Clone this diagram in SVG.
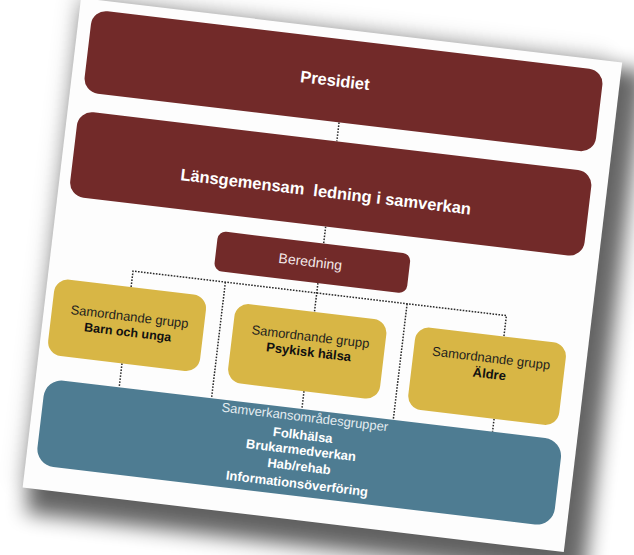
<svg xmlns="http://www.w3.org/2000/svg" width="634" height="555" viewBox="0 0 634 555">
<style>
text{font-family:"Liberation Sans",Arial,sans-serif;text-anchor:middle}
.mr{fill:#722a29}
.yl{fill:#d8b645}
.bl{fill:#4e7c92}
.hd{font-size:16.5px;font-weight:bold;fill:#ffffff}
.sg{font-size:13px;fill:#1e1e1e}
.sb{font-size:13px;font-weight:bold;fill:#111111}
.wb{font-size:13px;font-weight:bold;fill:#ffffff}
.cn{fill:none;stroke:#2a2a2a;stroke-width:1.5;stroke-dasharray:1.6 1.4}
</style>
<defs>
<filter id="sh" x="-20%" y="-20%" width="140%" height="140%"><feGaussianBlur stdDeviation="10"/></filter>
</defs>
<rect width="634" height="555" fill="#ffffff"/>
<g transform="translate(81,-2) rotate(6.8)">
<rect x="6" y="6" width="562" height="512" fill="#000" opacity="0.6" filter="url(#sh)"/>
<rect x="-8" y="-8" width="540" height="500" fill="#000" opacity="0.1" filter="url(#sh)"/>
<rect x="0" y="0" width="545" height="493" fill="#fdfdfd"/>

<g id="connectors">
<path class="cn" d="M271,93V112"/>
<path class="cn" d="M270,198V215"/>
<path class="cn" d="M269,255V284"/>
<path class="cn" d="M84,281V265H460V286"/>
<path class="cn" d="M177,265V382"/>
<path class="cn" d="M360,265V382"/>
<path class="cn" d="M84,358V382"/>
<path class="cn" d="M268,364V382"/>
<path class="cn" d="M460,369V382"/>
</g>

<g id="presidiet">
<rect class="mr" x="13" y="10" width="515" height="83" rx="15"/>
<text class="hd" x="262" y="57.5">Presidiet</text>
</g>
<g id="lansgemensam">
<rect class="mr" x="11" y="112" width="518" height="86" rx="15"/>
<text class="hd" x="266" y="169" xml:space="preserve">Länsgemensam  ledning i samverkan</text>
</g>
<g id="beredning">
<rect class="mr" x="164" y="215" width="194" height="40" rx="8"/>
<text x="259" y="239.5" style="font-size:14px;fill:#f3e8e8">Beredning</text>
</g>
<g id="barn">
<rect class="yl" x="8" y="281" width="153" height="77" rx="14"/>
<text class="sg" x="86" y="315">Samordnande grupp</text>
<text class="sb" x="86" y="330.5" style="font-size:12.5px">Barn och unga</text>
</g>
<g id="psykisk">
<rect class="yl" x="190" y="284" width="153" height="80" rx="14"/>
<text class="sg" x="268" y="313.5">Samordnande grupp</text>
<text class="sb" x="268" y="329">Psykisk hälsa</text>
</g>
<g id="aldre">
<rect class="yl" x="372" y="286" width="152" height="83" rx="14"/>
<text class="sg" x="450" y="313.5">Samordnande grupp</text>
<text class="sb" x="450" y="329.5">Äldre</text>
</g>
<g id="samverkan">
<rect class="bl" x="10" y="382" width="521" height="87" rx="18"/>
<text x="272" y="394" style="font-size:13px;fill:#e4ecf0">Samverkansområdesgrupper</text>
<text class="wb" x="272" y="412.3">Folkhälsa</text>
<text class="wb" x="272" y="427.4">Brukarmedverkan</text>
<text class="wb" x="272" y="443.6">Hab/rehab</text>
<text class="wb" x="272" y="461">Informationsöverföring</text>
</g>
</g>
</svg>
